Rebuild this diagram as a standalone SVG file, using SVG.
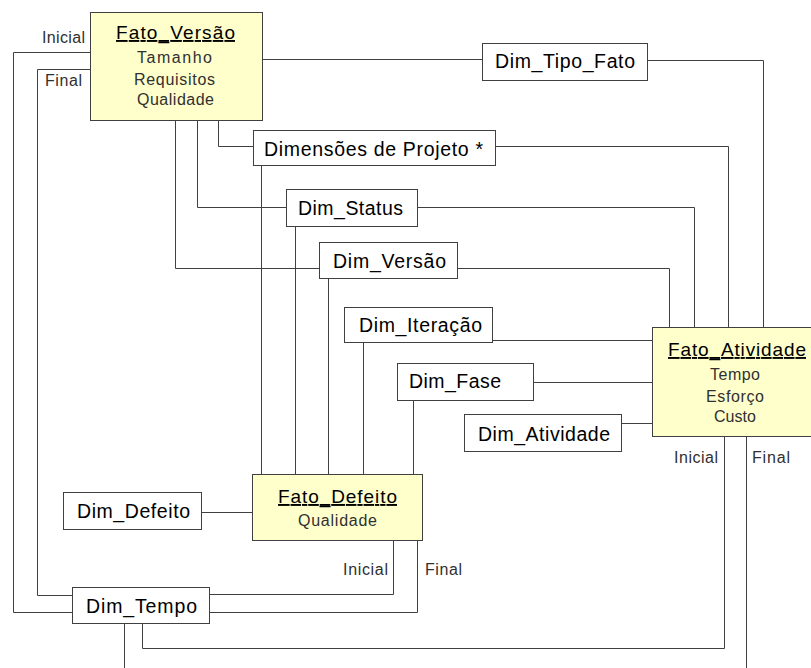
<svg xmlns="http://www.w3.org/2000/svg" width="811" height="668" viewBox="0 0 811 668">
<style>
.bg{fill:#ffffff}
.dim{fill:#ffffff;stroke:#404040;stroke-width:1}
.fact{fill:#ffffcc;stroke:#404040;stroke-width:1}
.ln{fill:none;stroke:#404040;stroke-width:1}
text{font-family:"Liberation Sans",Arial,sans-serif}
.dt{font-size:19.5px;fill:#000000}
.tt{font-size:19px;fill:#000000;text-decoration:underline}
.at{font-size:16px;fill:#303030}
.lb{font-size:16px;fill:#303030}
</style>
<rect class="bg" x="0" y="0" width="811" height="668"/>
<g id="connectors">
<polyline class="ln" points="90,52.5 13.5,52.5 13.5,612.5 72,612.5"/>
<polyline class="ln" points="90,69.5 37.5,69.5 37.5,595.5 72,595.5"/>
<polyline class="ln" points="175.5,120 175.5,268.5 319,268.5"/>
<polyline class="ln" points="197.5,120 197.5,207.5 286,207.5"/>
<polyline class="ln" points="218.5,120 218.5,146.5 253,146.5"/>
<polyline class="ln" points="262,59.5 482,59.5"/>
<polyline class="ln" points="648,60.5 763.5,60.5 763.5,327"/>
<polyline class="ln" points="495,146.5 728.5,146.5 728.5,327"/>
<polyline class="ln" points="418,207.5 694.5,207.5 694.5,327"/>
<polyline class="ln" points="458,268.5 669.5,268.5 669.5,327"/>
<polyline class="ln" points="493,340.5 652,340.5"/>
<polyline class="ln" points="534,382.5 652,382.5"/>
<polyline class="ln" points="622,423.5 652,423.5"/>
<polyline class="ln" points="261.5,165 261.5,474"/>
<polyline class="ln" points="295.5,227 295.5,474"/>
<polyline class="ln" points="328.5,279 328.5,474"/>
<polyline class="ln" points="363.5,343 363.5,474"/>
<polyline class="ln" points="413.5,401 413.5,474"/>
<polyline class="ln" points="202,512.5 252,512.5"/>
<polyline class="ln" points="393.5,541 393.5,594.5 210,594.5"/>
<polyline class="ln" points="417.5,541 417.5,612.5 210,612.5"/>
<polyline class="ln" points="124.5,624 124.5,668"/>
<polyline class="ln" points="142.5,624 142.5,648.5 724.5,648.5 724.5,437"/>
<polyline class="ln" points="746.5,437 746.5,668"/>
<text class="lb" x="42" y="43" textLength="43" lengthAdjust="spacing">Inicial</text>
<text class="lb" x="45" y="86" textLength="37" lengthAdjust="spacing">Final</text>
<text class="lb" x="343" y="575" textLength="45" lengthAdjust="spacing">Inicial</text>
<text class="lb" x="425" y="575" textLength="37" lengthAdjust="spacing">Final</text>
<text class="lb" x="674" y="463" textLength="44" lengthAdjust="spacing">Inicial</text>
<text class="lb" x="752" y="463" textLength="38" lengthAdjust="spacing">Final</text>
</g>
<g id="fato_versao">
<rect class="fact" x="90.5" y="12.5" width="172" height="108"/>
<text class="tt" x="116" y="39" textLength="119" lengthAdjust="spacing">Fato_Versão</text>
<text class="at" x="137" y="63" textLength="75" lengthAdjust="spacing">Tamanho</text>
<text class="at" x="134" y="85" textLength="81" lengthAdjust="spacing">Requisitos</text>
<text class="at" x="137" y="105" textLength="77" lengthAdjust="spacing">Qualidade</text>
</g>
<g id="dim_tipo_fato">
<rect class="dim" x="482.5" y="43.5" width="165" height="37"/>
<text class="dt" x="495" y="68" textLength="140" lengthAdjust="spacing">Dim_Tipo_Fato</text>
</g>
<g id="dimensoes_projeto">
<rect class="dim" x="253.5" y="130.5" width="242" height="35"/>
<text class="dt" x="264" y="156" textLength="219" lengthAdjust="spacing">Dimensões de Projeto *</text>
</g>
<g id="dim_status">
<rect class="dim" x="286.5" y="189.5" width="131" height="37"/>
<text class="dt" x="298" y="215" textLength="105" lengthAdjust="spacing">Dim_Status</text>
</g>
<g id="dim_versao">
<rect class="dim" x="319.5" y="242.5" width="138" height="36"/>
<text class="dt" x="333" y="268" textLength="113" lengthAdjust="spacing">Dim_Versão</text>
</g>
<g id="dim_iteracao">
<rect class="dim" x="344.5" y="307.5" width="148" height="35"/>
<text class="dt" x="359" y="332" textLength="123" lengthAdjust="spacing">Dim_Iteração</text>
</g>
<g id="dim_fase">
<rect class="dim" x="397.5" y="363.5" width="136" height="37"/>
<text class="dt" x="409" y="388" textLength="92" lengthAdjust="spacing">Dim_Fase</text>
</g>
<g id="dim_atividade">
<rect class="dim" x="464.5" y="414.5" width="157" height="37"/>
<text class="dt" x="478" y="441" textLength="132" lengthAdjust="spacing">Dim_Atividade</text>
</g>
<g id="fato_atividade">
<rect class="fact" x="652.5" y="327.5" width="170" height="109"/>
<text class="tt" x="668" y="356" textLength="138" lengthAdjust="spacing">Fato_Atividade</text>
<text class="at" x="710" y="380" textLength="50" lengthAdjust="spacing">Tempo</text>
<text class="at" x="706" y="402" textLength="58" lengthAdjust="spacing">Esforço</text>
<text class="at" x="714" y="422" textLength="42" lengthAdjust="spacing">Custo</text>
</g>
<g id="fato_defeito">
<rect class="fact" x="252.5" y="474.5" width="170" height="66"/>
<text class="tt" x="278" y="503" textLength="119" lengthAdjust="spacing">Fato_Defeito</text>
<text class="at" x="298" y="526" textLength="79" lengthAdjust="spacing">Qualidade</text>
</g>
<g id="dim_defeito">
<rect class="dim" x="63.5" y="492.5" width="138" height="37"/>
<text class="dt" x="77" y="518" textLength="113" lengthAdjust="spacing">Dim_Defeito</text>
</g>
<g id="dim_tempo">
<rect class="dim" x="72.5" y="587.5" width="137" height="36"/>
<text class="dt" x="86" y="613" textLength="111" lengthAdjust="spacing">Dim_Tempo</text>
</g>
</svg>
